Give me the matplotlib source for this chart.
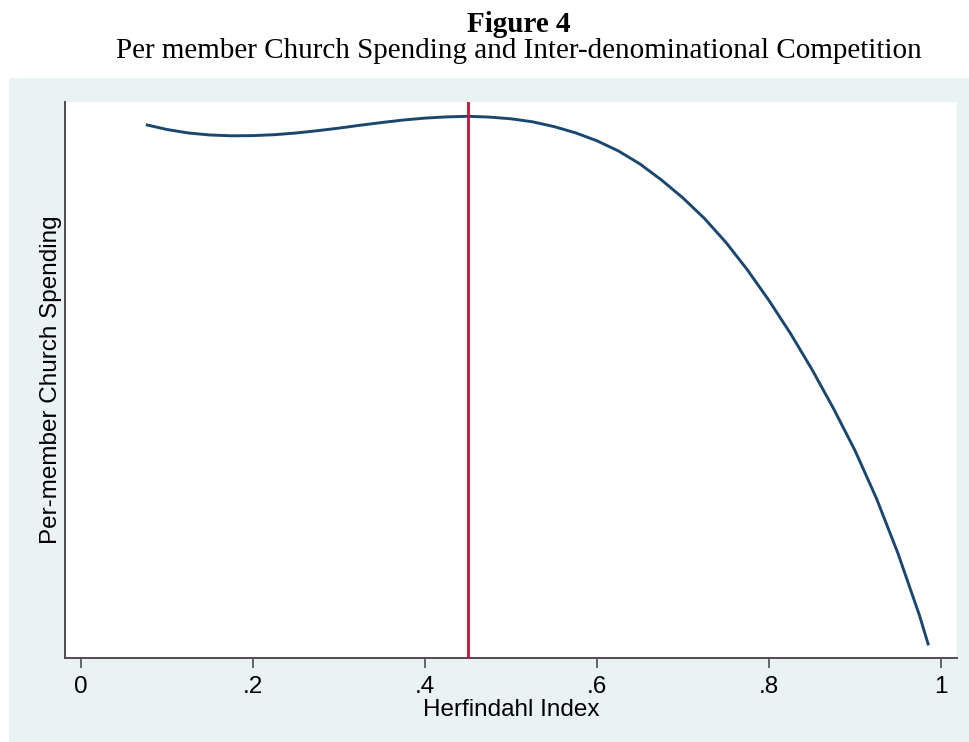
"""
Figure 4: per-member church spending against the Herfindahl index.
Stata-like layout: serif title on white, light blue-grey panel behind the plot.
"""

import matplotlib
import matplotlib.pyplot as plt
from matplotlib.patches import Rectangle

matplotlib.use("Agg")

# Fitted spending curve (y in arbitrary units, no scale shown)
herfindahl = [0.077, 0.10, 0.125, 0.15, 0.175, 0.20, 0.225, 0.25, 0.275, 0.30,
              0.325, 0.35, 0.375, 0.40, 0.425, 0.45, 0.475, 0.50, 0.525, 0.55,
              0.575, 0.60, 0.625, 0.65, 0.675, 0.70, 0.725, 0.75, 0.775, 0.80,
              0.825, 0.85, 0.875, 0.90, 0.925, 0.95, 0.975, 0.985]
spending = [53.3, 52.85, 52.5, 52.3, 52.22, 52.24, 52.33, 52.5, 52.73, 52.99,
            53.28, 53.55, 53.8, 53.99, 54.11, 54.17, 54.09, 53.92, 53.62, 53.14,
            52.52, 51.72, 50.7, 49.4, 47.8, 46.0, 43.95, 41.55, 38.8, 35.75,
            32.45, 28.85, 24.95, 20.75, 15.95, 10.45, 4.25, 1.4]

# Turning point marked with a vertical line
peak_x = 0.45

xticks = [0, 0.2, 0.4, 0.6, 0.8, 1.0]
xtick_labels = ["0", ".2", ".4", ".6", ".8", "1"]

W, H = 969, 742
fig = plt.figure(figsize=(W / 100, H / 100), dpi=100)
fig.patch.set_facecolor("white")

# Light panel behind the plot region
fig.patches.append(Rectangle((9 / W, 0), 1 - 9 / W, (H - 78) / H,
                             transform=fig.transFigure, facecolor="#EAF2F3",
                             edgecolor="none", zorder=-10))

ax = fig.add_axes([65 / W, (H - 658) / H, (957 - 65) / W, (658 - 102) / H])
ax.set_facecolor("white")
ax.set_zorder(1)

ax.plot(herfindahl, spending, color="#1A476F", linewidth=2.1, zorder=3,
        solid_joinstyle="round")
ax.axvline(peak_x, color="#C8103A", linewidth=2.0, zorder=4)

ax.set_xlim(-0.0186, 1.0186)
ax.set_ylim(0, 55.6)

ax.set_xticks(xticks)
ax.set_xticklabels(xtick_labels)
ax.set_yticks([])
ax.tick_params(axis="x", direction="out", length=7, width=1.2, color="#4d4d4d",
               labelsize=17.5, pad=6)

for side in ("top", "right"):
    ax.spines[side].set_visible(False)
for side in ("left", "bottom"):
    ax.spines[side].set_color("#4d4d4d")
    ax.spines[side].set_linewidth(1.4)

font = "Liberation Sans"
for lbl in ax.get_xticklabels():
    lbl.set_fontfamily(font)

ax.set_xlabel("Herfindahl Index", fontsize=17.5, family=font, labelpad=1)
ax.set_ylabel("Per-member Church Spending", fontsize=17.5, family=font, labelpad=2)

# Titles in serif on the white strip
fig.text(519 / W, (H - 31.5) / H, "Figure 4", ha="center", va="baseline",
         fontsize=21, fontweight="bold", family="Liberation Serif")
fig.text(519 / W, (H - 58) / H,
         "Per member Church Spending and Inter-denominational Competition",
         ha="center", va="baseline", fontsize=21, family="Liberation Serif")

plt.savefig("out.png", dpi=100)
plt.close()
